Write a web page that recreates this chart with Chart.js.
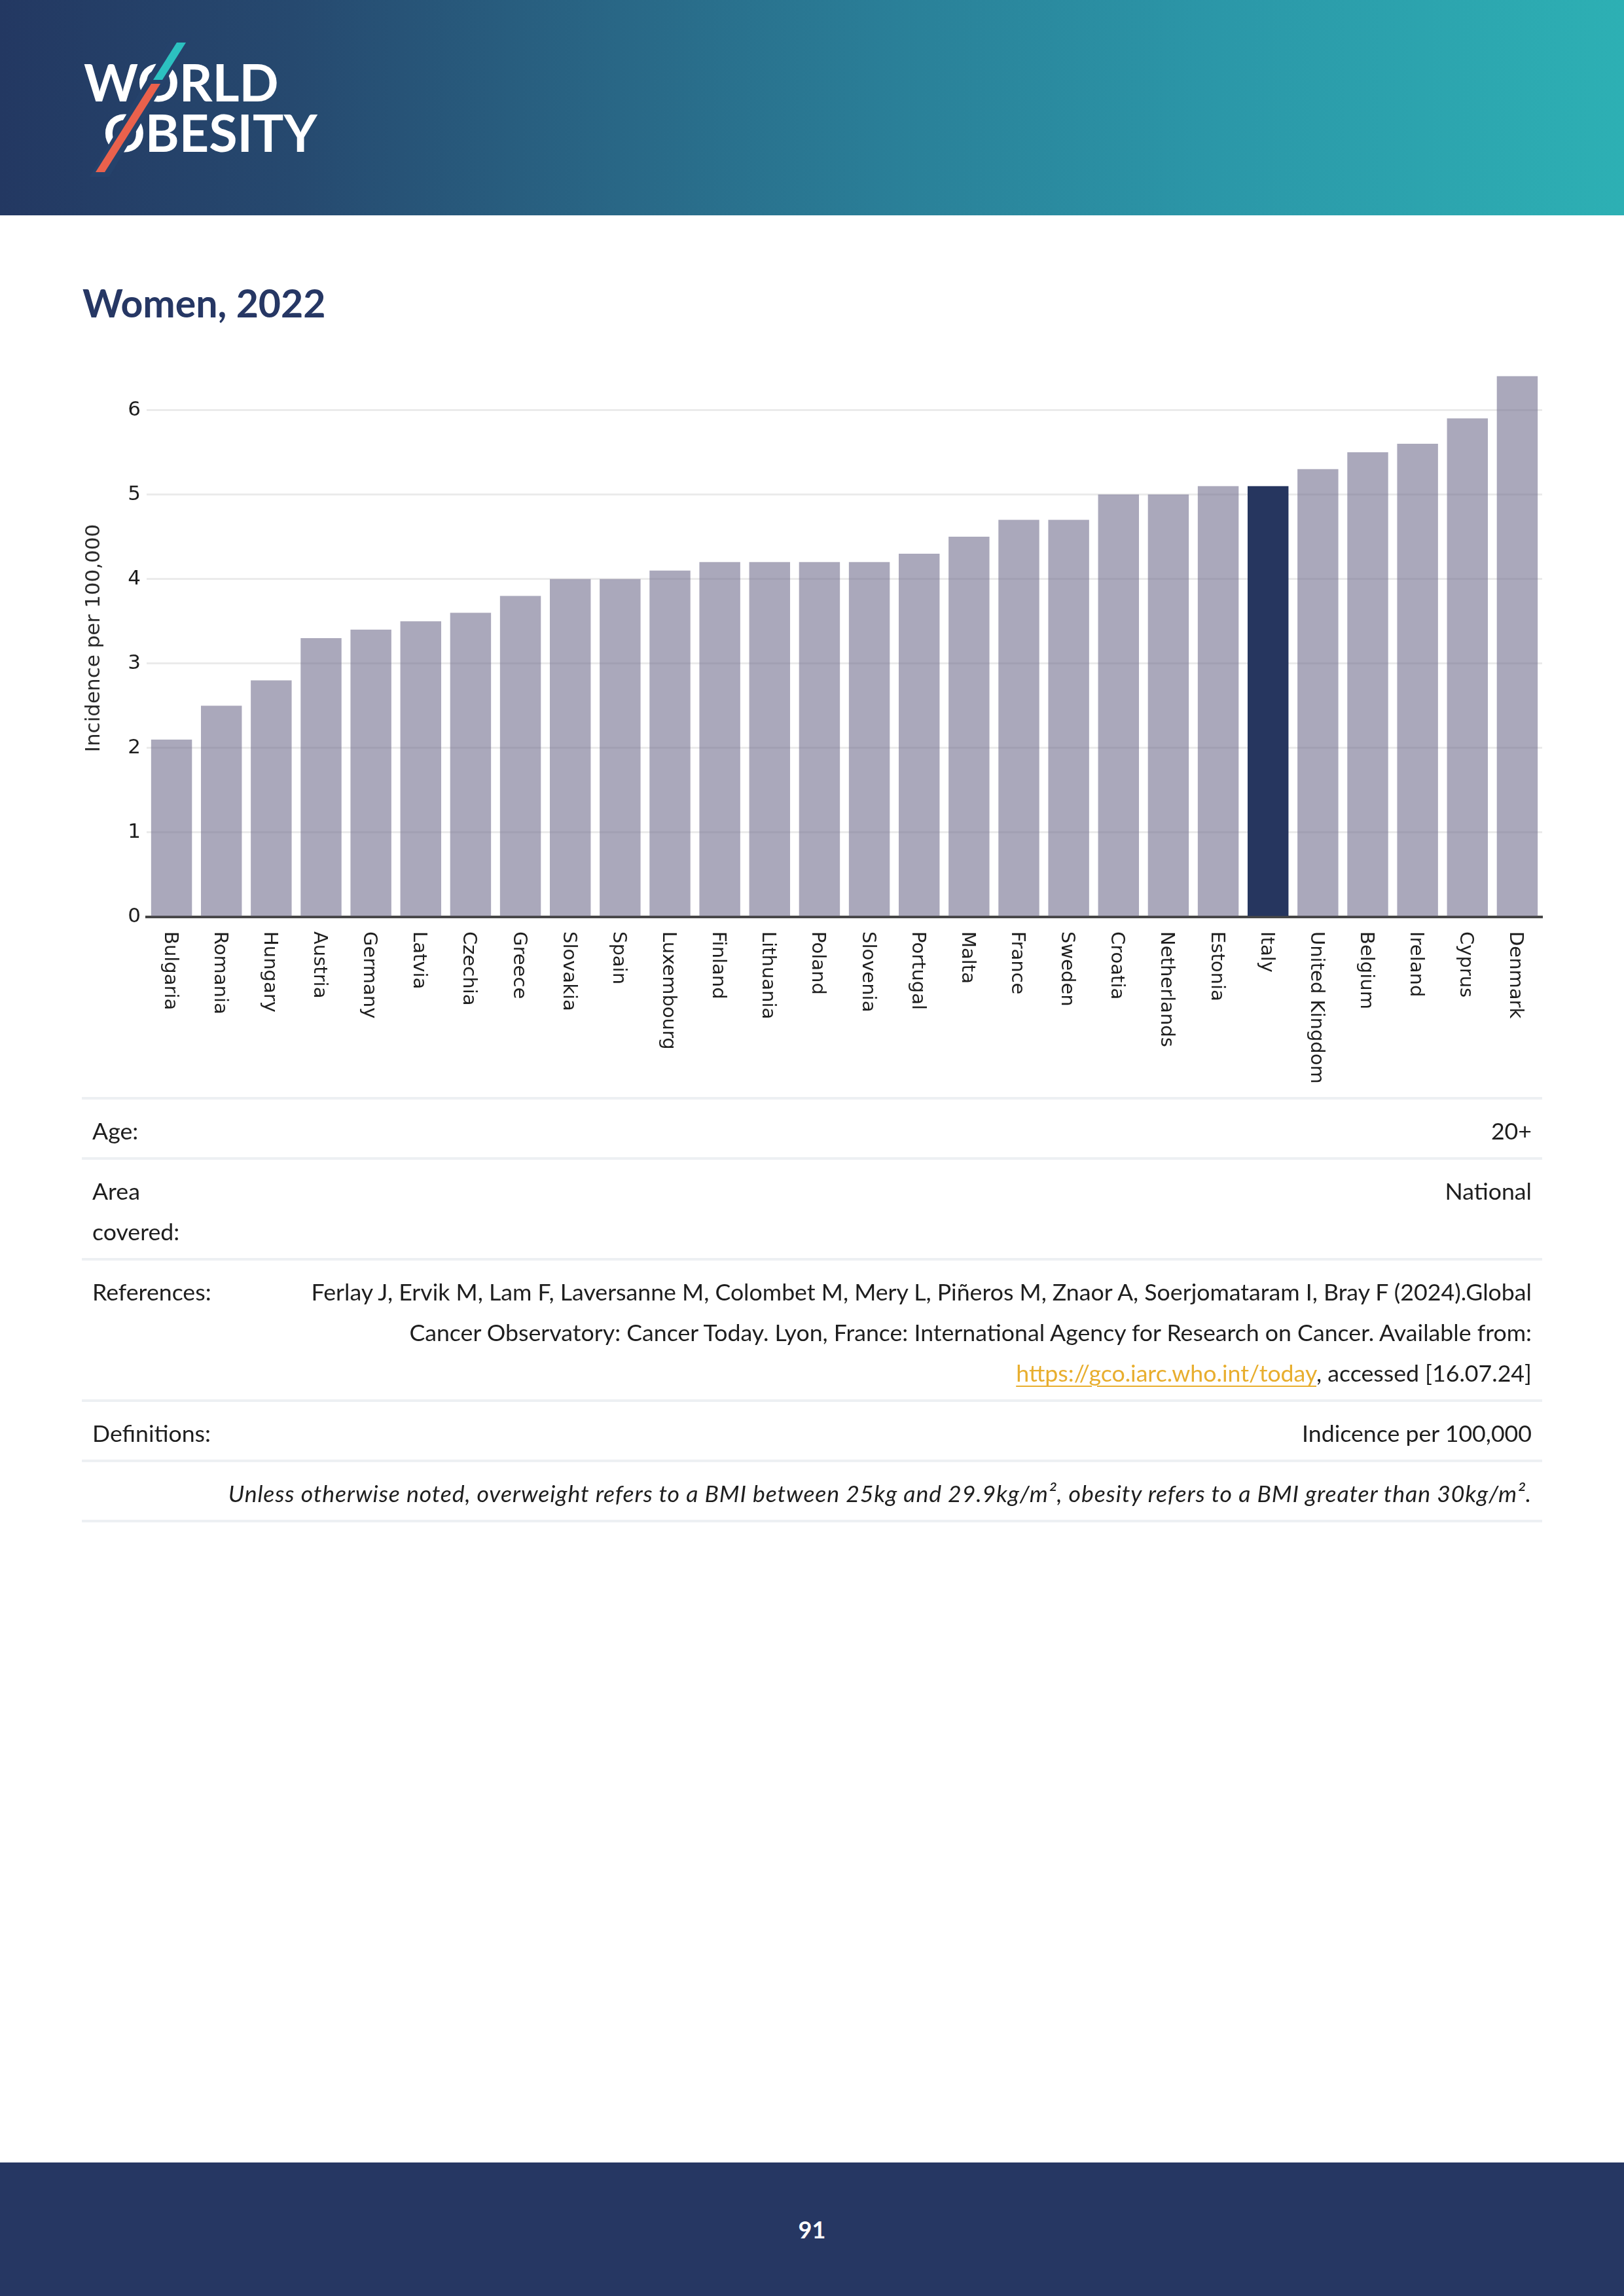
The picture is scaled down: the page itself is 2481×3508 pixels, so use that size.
<!DOCTYPE html>
<html>
<head>
<meta charset="utf-8">
<script src="https://cdn.jsdelivr.net/npm/chart.js@4.4.1/dist/chart.umd.min.js"></script>
<style>
html,body{margin:0;padding:0;background:#fff;}
body{width:2481px;height:3508px;position:relative;overflow:hidden;font-family:Lato,"Open Sans",sans-serif;color:#1e1e1e;}
#header{position:absolute;left:0;top:0;width:2481px;height:329px;
 background:linear-gradient(90deg,#233862 0%,#26496f 18%,#296786 38%,#2a7f98 55%,#2b97a8 75%,#2db0b4 100%);}
#title{position:absolute;left:126px;top:423px;font-family:Lato,sans-serif;font-weight:700;font-size:59px;color:#263764;line-height:80px;white-space:nowrap;}
#chartBox{position:absolute;left:0;top:500px;width:2481px;height:1200px;}
#meta{position:absolute;left:125px;top:1676px;width:2231px;font-size:35.7px;color:#1e1e1e;}
.row{border-top:4px solid #edf0f3;padding:17px 16px 9px 16px;line-height:62px;display:flex;justify-content:space-between;align-items:flex-start;}
.row.last{border-bottom:4px solid #edf0f3;}
.lab{white-space:nowrap;}
.val{text-align:right;white-space:nowrap;}
.note{font-style:italic;text-align:right;width:100%;white-space:nowrap;letter-spacing:0.85px;}
a{color:#e8ae2e;text-decoration:underline;text-decoration-thickness:2px;text-underline-offset:6px;}
#footer{position:absolute;left:0;top:3304px;width:2481px;height:204px;background:#263763;color:#fff;font-family:Lato,sans-serif;font-weight:700;font-size:36px;text-align:center;line-height:204px;}
</style>
</head>
<body>
<div id="header">
<svg width="2481" height="329" style="position:absolute;left:0;top:0">
  <text x="128" y="155" font-family="Lato" font-weight="700" font-size="79" fill="#ffffff">WORLD</text>
  <text x="158" y="232" font-family="Lato" font-weight="700" font-size="79" fill="#ffffff">OBESITY</text>
  <polygon points="262,58 292,58 167,270 137,270" fill="#25426b"/>
  <polygon points="270,65 284,65 248,122 234,122" fill="#2cc1c0"/>
  <polygon points="231,128 245,128 160,263 146,263" fill="#ea614c"/>
</svg>
</div>
<div id="title">Women, 2022</div>
<div id="chartBox"><canvas id="c" width="2481" height="1200" style="width:2481px;height:1200px"></canvas></div>
<div id="meta">
  <div class="row"><div class="lab">Age:</div><div class="val">20+</div></div>
  <div class="row"><div class="lab">Area<br>covered:</div><div class="val">National</div></div>
  <div class="row"><div class="lab">References:</div><div class="val">Ferlay J, Ervik M, Lam F, Laversanne M, Colombet M, Mery L, Piñeros M, Znaor A, Soerjomataram I, Bray F (2024).Global<br>Cancer Observatory: Cancer Today. Lyon, France: International Agency for Research on Cancer. Available from:<br><a href="#">https://gco.iarc.who.int/today</a>, accessed [16.07.24]</div></div>
  <div class="row"><div class="lab">Definitions:</div><div class="val">Indicence per 100,000</div></div>
  <div class="row last"><div class="note">Unless otherwise noted, overweight refers to a BMI between 25kg and 29.9kg/m², obesity refers to a BMI greater than 30kg/m².</div></div>
</div>
<div id="footer">91</div>
<script>
const countries = ["Bulgaria","Romania","Hungary","Austria","Germany","Latvia","Czechia","Greece","Slovakia","Spain","Luxembourg","Finland","Lithuania","Poland","Slovenia","Portugal","Malta","France","Sweden","Croatia","Netherlands","Estonia","Italy","United Kingdom","Belgium","Ireland","Cyprus","Denmark"];
const incidence = [2.1,2.5,2.8,3.3,3.4,3.5,3.6,3.8,4.0,4.0,4.1,4.2,4.2,4.2,4.2,4.3,4.5,4.7,4.7,5.0,5.0,5.1,5.1,5.3,5.5,5.6,5.9,6.4];
const highlight = "Italy";
const yTicks = [0,1,2,3,4,5,6];
const yTitle = "Incidence per 100,000";

const baseColor = "rgba(113,110,142,0.6)";
const hiColor = "#26365f";

const xLabelPlugin = {
  id: "xlabels",
  afterDraw(chart) {
    const ctx = chart.ctx, xs = chart.scales.x;
    const y0 = chart.chartArea.bottom + 22;
    ctx.save();
    ctx.font = '29px "DejaVu Sans"';
    ctx.fillStyle = "#1e1e1e";
    ctx.textAlign = "left";
    ctx.textBaseline = "middle";
    countries.forEach((c, i) => {
      const x = xs.getPixelForValue(i);
      ctx.save();
      ctx.translate(x - 3, y0);
      ctx.rotate(Math.PI / 2);
      ctx.fillText(c, 0, 0);
      ctx.restore();
    });
    ctx.restore();
  }
};

new Chart(document.getElementById("c"), {
  type: "bar",
  data: {
    labels: countries,
    datasets: [{
      data: incidence,
      backgroundColor: countries.map(c => c === highlight ? hiColor : baseColor),
      borderWidth: 0,
      barPercentage: 0.82,
      categoryPercentage: 1.0
    }]
  },
  options: {
    responsive: false,
    animation: false,
    devicePixelRatio: 1,
    layout: { padding: { left: 125, right: 125, top: 49, bottom: 291 } },
    plugins: { legend: { display: false }, tooltip: { enabled: false } },
    scales: {
      x: {
        ticks: { display: false },
        grid: { display: false },
        border: { display: true, color: "#474747", width: 4 }
      },
      y: {
        min: 0, max: 6.6,
        afterBuildTicks(s) { s.ticks = yTicks.map(v => ({ value: v })); },
        afterFit(s) { s.width = 99; },
        ticks: { padding: 9, color: "#1e1e1e", font: { family: "DejaVu Sans", size: 31 } },
        grid: { drawTicks: false, lineWidth: 3, color: ctx => (ctx.tick && ctx.tick.value === 0) ? "rgba(0,0,0,0)" : "#ebebeb" },
        border: { display: false },
        title: { display: true, text: yTitle, color: "#2a2a2a", font: { family: "DejaVu Sans", size: 31 }, padding: 0 }
      }
    }
  },
  plugins: [xLabelPlugin]
});
</script>
</body>
</html>
